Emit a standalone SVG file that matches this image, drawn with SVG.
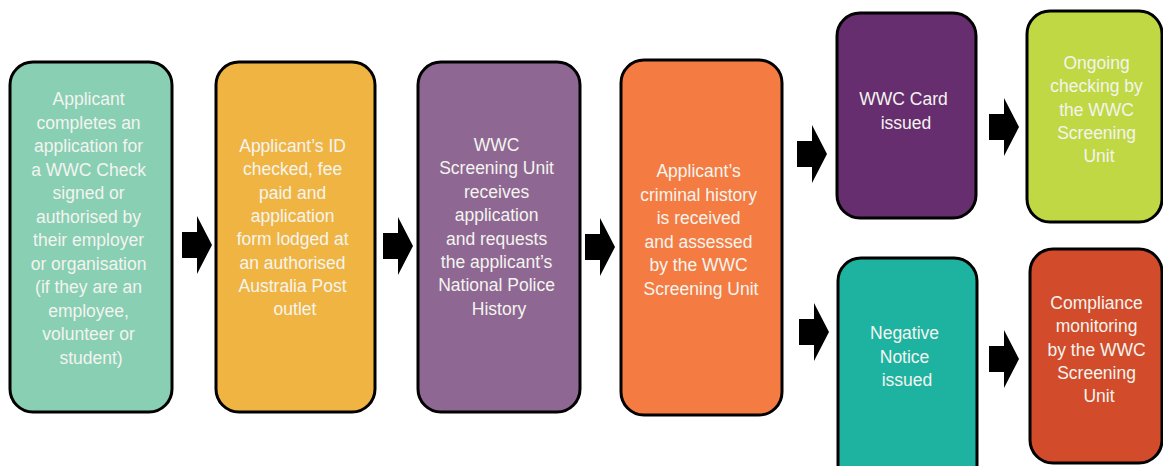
<svg xmlns="http://www.w3.org/2000/svg" xmlns:xlink="http://www.w3.org/1999/xlink" width="1163" height="466" viewBox="0 0 1163 466">
<style>
  .box { stroke: #000; stroke-width: 3; }
  .lbl { font-family: "Liberation Sans", Arial, sans-serif; font-size: 17.5px; fill: #f4f4ef; text-anchor: middle; }
  .arr { fill: #000; }
</style>
<defs>
  <path id="arrow" class="arr" d="M0,-13 H15 V-29 L30,0 L15,29 V13 H0 Z"/>
</defs>
<rect width="1163" height="466" fill="#fff"/>

<g id="connectors">
  <use xlink:href="#arrow" href="#arrow" x="182" y="245"/>
  <use xlink:href="#arrow" href="#arrow" x="383" y="246"/>
  <use xlink:href="#arrow" href="#arrow" x="585" y="247"/>
  <use xlink:href="#arrow" href="#arrow" x="797" y="154"/>
  <use xlink:href="#arrow" href="#arrow" x="989" y="127"/>
  <use xlink:href="#arrow" href="#arrow" x="799" y="332"/>
  <use xlink:href="#arrow" href="#arrow" x="989" y="359"/>
</g>

<g id="node-apply">
  <rect class="box" x="10" y="62" width="162" height="350" rx="23" fill="#88cfb4"/>
  <text class="lbl">
    <tspan x="91" y="105">Applicant</tspan>
    <tspan x="91" y="128.5">completes an</tspan>
    <tspan x="91" y="152">application for</tspan>
    <tspan x="91" y="175.5">a WWC Check</tspan>
    <tspan x="91" y="199">signed or</tspan>
    <tspan x="91" y="222.5">authorised by</tspan>
    <tspan x="91" y="246">their employer</tspan>
    <tspan x="91" y="269.5">or organisation</tspan>
    <tspan x="91" y="293">(if they are an</tspan>
    <tspan x="91" y="316.5">employee,</tspan>
    <tspan x="91" y="340">volunteer or</tspan>
    <tspan x="91" y="363.5">student)</tspan>
  </text>
</g>

<g id="node-id-check">
  <rect class="box" x="216" y="62" width="159" height="350" rx="23" fill="#f0b443"/>
  <text class="lbl">
    <tspan x="295" y="152">Applicant’s ID</tspan>
    <tspan x="295" y="175.3">checked, fee</tspan>
    <tspan x="295" y="198.6">paid and</tspan>
    <tspan x="295" y="221.9">application</tspan>
    <tspan x="295" y="245.2">form lodged at</tspan>
    <tspan x="295" y="268.5">an authorised</tspan>
    <tspan x="295" y="291.8">Australia Post</tspan>
    <tspan x="295" y="315.1">outlet</tspan>
  </text>
</g>

<g id="node-screening">
  <rect class="box" x="418" y="62" width="162" height="350" rx="23" fill="#8e6892"/>
  <text class="lbl">
    <tspan x="499" y="151">WWC</tspan>
    <tspan x="499" y="174.4">Screening Unit</tspan>
    <tspan x="499" y="197.8">receives</tspan>
    <tspan x="499" y="221.2">application</tspan>
    <tspan x="499" y="244.6">and requests</tspan>
    <tspan x="499" y="268">the applicant’s</tspan>
    <tspan x="499" y="291.4">National Police</tspan>
    <tspan x="499" y="314.8">History</tspan>
  </text>
</g>

<g id="node-assess">
  <rect class="box" x="621" y="60" width="161" height="355" rx="23" fill="#f47c42"/>
  <text class="lbl">
    <tspan x="701" y="177">Applicant’s</tspan>
    <tspan x="701" y="200.6">criminal history</tspan>
    <tspan x="701" y="224.2">is received</tspan>
    <tspan x="701" y="247.8">and assessed</tspan>
    <tspan x="701" y="271.4">by the WWC</tspan>
    <tspan x="701" y="295">Screening Unit</tspan>
  </text>
</g>

<g id="node-card">
  <rect class="box" x="837" y="13" width="139" height="205" rx="23" fill="#662d6f"/>
  <text class="lbl">
    <tspan x="906" y="105">WWC Card</tspan>
    <tspan x="906" y="128.5">issued</tspan>
  </text>
</g>

<g id="node-ongoing">
  <rect class="box" x="1027" y="11" width="135" height="211" rx="23" fill="#c0d844"/>
  <text class="lbl">
    <tspan x="1099" y="69">Ongoing</tspan>
    <tspan x="1099" y="92.3">checking by</tspan>
    <tspan x="1099" y="115.6">the WWC</tspan>
    <tspan x="1099" y="138.9">Screening</tspan>
    <tspan x="1099" y="162.2">Unit</tspan>
  </text>
</g>

<g id="node-negative">
  <rect class="box" x="838" y="258" width="139" height="230" rx="23" fill="#1db3a0"/>
  <text class="lbl">
    <tspan x="907" y="339">Negative</tspan>
    <tspan x="907" y="362.5">Notice</tspan>
    <tspan x="907" y="386">issued</tspan>
  </text>
</g>

<g id="node-compliance">
  <rect class="box" x="1030" y="249" width="132" height="214" rx="23" fill="#d24b2a"/>
  <text class="lbl">
    <tspan x="1099" y="309">Compliance</tspan>
    <tspan x="1099" y="332.3">monitoring</tspan>
    <tspan x="1099" y="355.6">by the WWC</tspan>
    <tspan x="1099" y="378.9">Screening</tspan>
    <tspan x="1099" y="402.2">Unit</tspan>
  </text>
</g>
</svg>
